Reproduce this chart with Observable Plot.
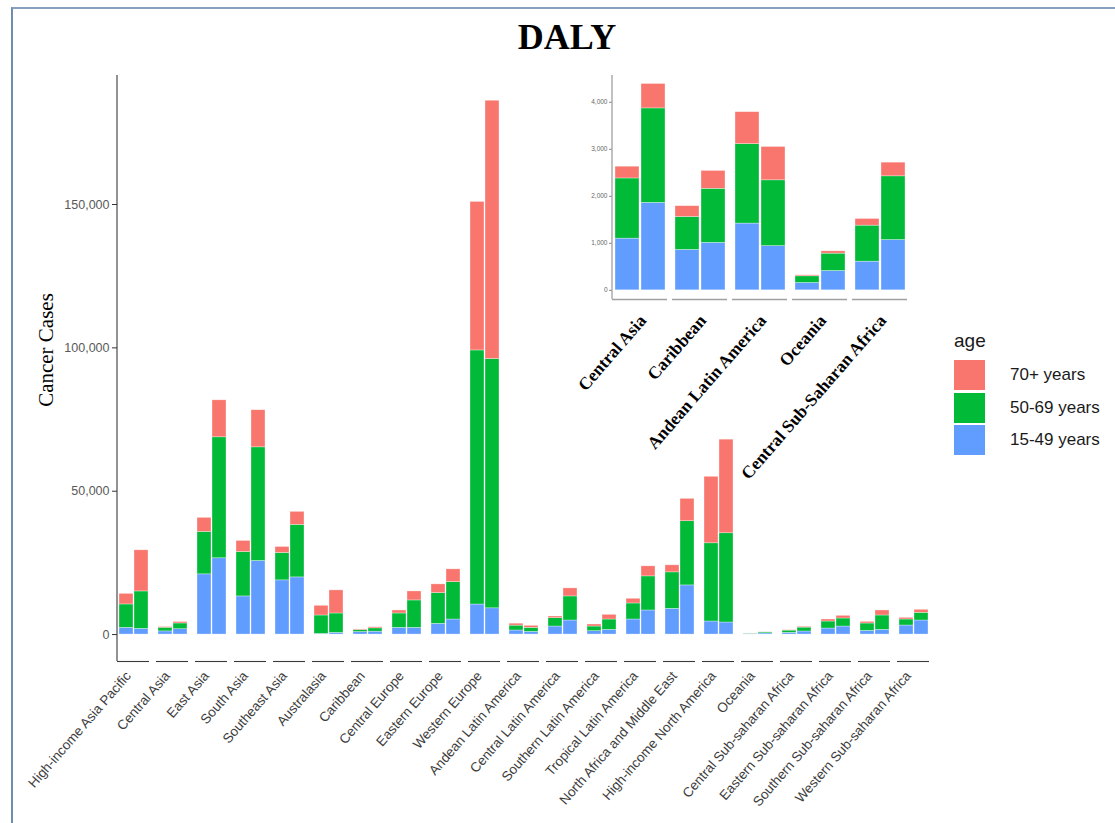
<!DOCTYPE html>
<html>
<head>
<meta charset="utf-8">
<script src="https://cdn.jsdelivr.net/npm/d3@7"></script>
<script src="https://cdn.jsdelivr.net/npm/@observablehq/plot@0.6"></script>
<style>
  html, body { margin: 0; padding: 0; background: #fff; }
  #page { position: relative; width: 1115px; height: 823px; overflow: hidden; background: #fff; }
  #frame { position: absolute; left: 11px; top: 7px; width: 1120px; height: 830px;
           border-top: 2px solid #86a0bd; border-left: 2px solid #6f8db0; }
  #title { position: absolute; left: 467px; top: 19px; width: 200px; text-align: center;
           font-family: "Liberation Serif", "Times New Roman", serif; font-weight: bold;
           font-size: 36px; line-height: 1; color: #000; }
  #ylabel { position: absolute; left: -54px; top: 338px; width: 200px; height: 24px; line-height: 24px;
            text-align: center; transform: rotate(-90deg); transform-origin: 50% 50%;
            font-family: "Liberation Serif", "Times New Roman", serif; font-size: 21px; color: #000; }
  #main { position: absolute; left: 0; top: 0; }
  #inset { position: absolute; left: 560px; top: 60px; }
  #legend { position: absolute; left: 954px; top: 329px; font-family: "Liberation Sans", Arial, sans-serif; color: #1a1a1a; }
  #legend .ttl { font-size: 19px; line-height: 24px; height: 30px; }
  #legend .row { display: flex; align-items: center; height: 32.5px; }
  #legend .sw { width: 31px; height: 30px; }
  #legend .lab { margin-left: 25px; font-size: 17px; }
</style>
</head>
<body>
<div id="page">
  <div id="frame"></div>
  <div id="main"></div>
  <div id="inset"></div>
  <div id="title">DALY</div>
  <div id="ylabel">Cancer Cases</div>
  <div id="legend"></div>
</div>
<script>
// ---------- data ----------
const regions = [
  "High-income Asia Pacific", "Central Asia", "East Asia", "South Asia", "Southeast Asia",
  "Australasia", "Caribbean", "Central Europe", "Eastern Europe", "Western Europe",
  "Andean Latin America", "Central Latin America", "Southern Latin America", "Tropical Latin America",
  "North Africa and Middle East", "High-income North America", "Oceania",
  "Central Sub-saharan Africa", "Eastern Sub-saharan Africa", "Southern Sub-saharan Africa",
  "Western Sub-saharan Africa"
];
const periods = ["1990", "2019"];
const ages = ["15-49 years", "50-69 years", "70+ years"];
const ageColors = ["#619CFF", "#00BA38", "#F8766D"];

const young1990 = [2330, 1100, 21000, 13300, 18900, 230, 860, 2330, 3730, 10470, 1420, 2800, 1170, 5250, 8980, 4550, 156, 610, 2100, 1280, 3150];
const young2019 = [1980, 1860, 26600, 25650, 19940, 580, 1010, 2330, 5250, 9150, 940, 4900, 1630, 8400, 17140, 4200, 411, 1070, 2800, 1630, 4900];
const mid1990   = [8170, 1280, 14800, 15500, 9550, 6420, 700, 5020, 10730, 88630, 1690, 2910, 1630, 5590, 12710, 27280, 142, 766, 2450, 2570, 2100];
const mid2019   = [13060, 2010, 42200, 39650, 18310, 6770, 1150, 9570, 13050, 86950, 1400, 8400, 3620, 11890, 22390, 31130, 369, 1355, 2800, 5020, 2680];
const old1990   = [3700, 250, 4900, 3850, 2100, 3380, 230, 1050, 3040, 51800, 680, 590, 700, 1640, 2450, 23200, 21, 142, 700, 580, 580];
const old2019   = [14340, 520, 12900, 12940, 4550, 8050, 380, 3140, 4440, 90100, 710, 2800, 1630, 3500, 7810, 32650, 50, 291, 930, 1750, 1050];

const yTicks = [0, 50000, 100000, 150000];

const insetRegions = ["Central Asia", "Caribbean", "Andean Latin America", "Oceania", "Central Sub-saharan Africa"];
const insetLabels  = ["Central Asia", "Caribbean", "Andean Latin America", "Oceania", "Central Sub-Saharan Africa"];
const insetTicks = [0, 1000, 2000, 3000, 4000];

// ---------- table ----------
const series = {
  "15-49 years": [young1990, young2019],
  "50-69 years": [mid1990, mid2019],
  "70+ years":   [old1990, old2019]
};
const rows = [];
regions.forEach((r, i) => {
  periods.forEach((p, j) => {
    ages.forEach(a => rows.push({region: r, period: p, age: a, value: series[a][j][i]}));
  });
});

// ---------- main chart ----------
const M = {top: 75, right: 180, bottom: 162, left: 111};
const yDomain = [-9400, 195000];
const main = Plot.plot({
  width: 1115, height: 823,
  marginTop: M.top, marginRight: M.right, marginBottom: M.bottom, marginLeft: M.left,
  style: {fontFamily: "'Liberation Sans', Arial, sans-serif", fontSize: "12px", background: "transparent", overflow: "visible"},
  fx: {domain: regions, padding: 0.18, axis: null, label: null},
  x: {domain: periods, padding: 0.08, axis: null, label: null},
  y: {domain: yDomain, axis: null, label: null},
  color: {domain: ages, range: ageColors},
  marks: [
    Plot.barY(rows, {fx: "region", x: "period", y: "value", fill: "age", stroke: "#ffffff", strokeOpacity: 0.55, strokeWidth: 0.6}),
    Plot.ruleY([yDomain[0]], {stroke: "#3a3a3a", strokeWidth: 1.1}),
    Plot.axisY(yTicks, {tickFormat: d3.format(","), tickSize: 5, tickPadding: 3, stroke: "#333", fill: "#595959", fontSize: 12.5, label: null}),
    Plot.axisFx({anchor: "bottom", tickRotate: -49, tickSize: 0, tickPadding: 8, dx: -5, dy: 4, fill: "#3d3d3d", fontSize: 13.5, label: null})
  ]
});
document.getElementById("main").appendChild(main);
{
  const ys = main.scale("y");
  const fx = main.scale("fx");
  const x0 = fx.apply(regions[0]);
  d3.select(main).append("line")
    .attr("x1", x0).attr("x2", x0)
    .attr("y1", ys.apply(yDomain[1])).attr("y2", ys.apply(yDomain[0]))
    .attr("stroke", "#3a3a3a").attr("stroke-width", 1.1);
}

// ---------- inset ----------
const I = {top: 15, right: 31, bottom: 191, left: 50};
const insetDomain = [-195, 4570];
const insetRows = rows.filter(d => insetRegions.includes(d.region));
const labelOf = new Map(insetRegions.map((r, i) => [r, insetLabels[i]]));
const inset = Plot.plot({
  width: 380, height: 430,
  marginTop: I.top, marginRight: I.right, marginBottom: I.bottom, marginLeft: I.left,
  style: {fontFamily: "'Liberation Sans', Arial, sans-serif", fontSize: "7px", background: "transparent", overflow: "visible"},
  fx: {domain: insetRegions, padding: 0.084, axis: null, label: null},
  x: {domain: periods, padding: 0.08, axis: null, label: null},
  y: {domain: insetDomain, axis: null, label: null},
  color: {domain: ages, range: ageColors},
  marks: [
    Plot.barY(insetRows, {fx: "region", x: "period", y: "value", fill: "age", stroke: "#ffffff", strokeOpacity: 0.55, strokeWidth: 0.6}),
    Plot.ruleY([insetDomain[0]], {stroke: "#a0a0a0", strokeWidth: 1.3}),
    Plot.axisY(insetTicks, {tickFormat: d3.format(","), tickSize: 3, tickPadding: 2, stroke: "#888", fill: "#666", fontSize: 6.5, label: null}),
    Plot.axisFx({anchor: "bottom", tickRotate: -49, tickSize: 0, tickPadding: 10, dx: 3, dy: 8, tickFormat: d => labelOf.get(d),
                 fill: "#000", fontSize: 17.5, fontWeight: "bold", fontFamily: "'Liberation Serif', 'Times New Roman', serif", label: null})
  ]
});
document.getElementById("inset").appendChild(inset);
{
  const ys = inset.scale("y");
  const fx = inset.scale("fx");
  const x0 = fx.apply(insetRegions[0]);
  d3.select(inset).append("line")
    .attr("x1", x0).attr("x2", x0)
    .attr("y1", ys.apply(insetDomain[1])).attr("y2", ys.apply(insetDomain[0]))
    .attr("stroke", "#a0a0a0").attr("stroke-width", 1.3);
}

// ---------- legend ----------
const legend = d3.select("#legend");
legend.append("div").attr("class", "ttl").text("age");
ages.slice().reverse().forEach(a => {
  const row = legend.append("div").attr("class", "row");
  row.append("div").attr("class", "sw").style("background", ageColors[ages.indexOf(a)]);
  row.append("div").attr("class", "lab").text(a);
});
</script>
</body>
</html>
